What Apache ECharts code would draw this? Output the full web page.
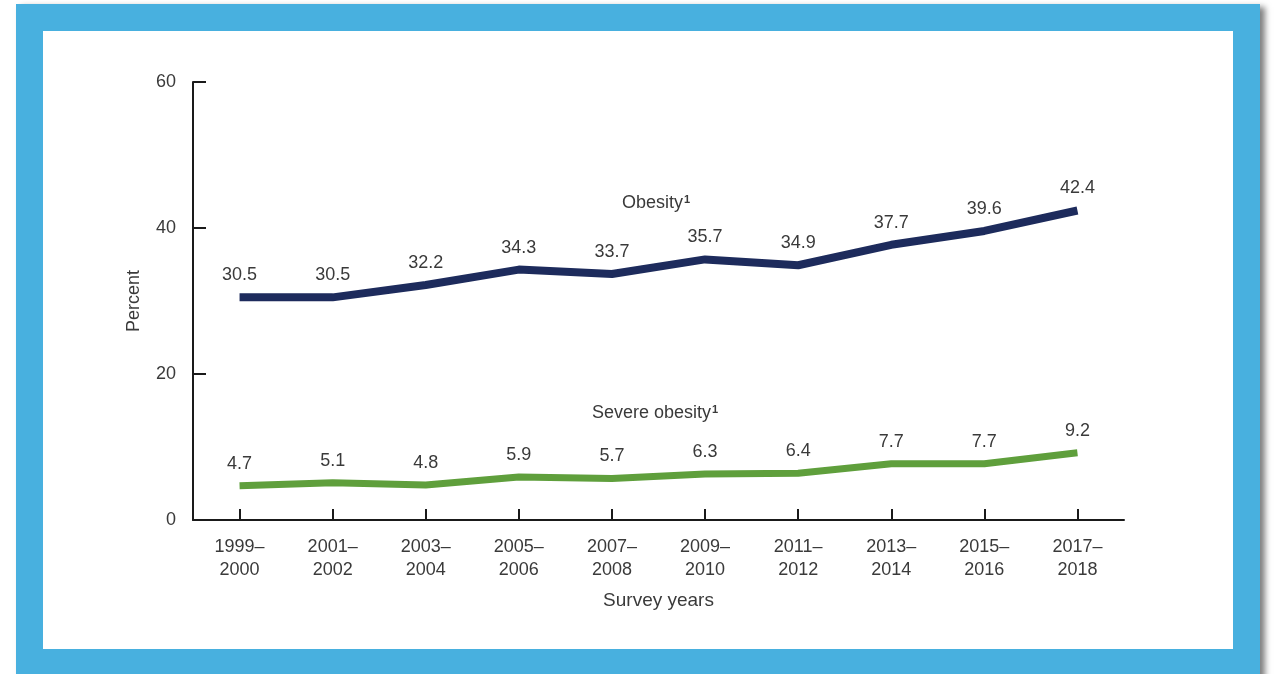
<!DOCTYPE html>
<html>
<head>
<meta charset="utf-8">
<script src="https://cdn.jsdelivr.net/npm/echarts@6/dist/echarts.min.js"></script>
<style>
  html, body { margin: 0; padding: 0; background: #ffffff; width: 1276px; height: 674px; overflow: hidden; }
  #frame { position: absolute; left: 16px; top: 4px; width: 1244px; height: 690px; background: #48b0df; box-shadow: 5px 3px 6px rgba(0,0,0,0.5); }
  #inner { position: absolute; left: 43px; top: 31px; width: 1190px; height: 618px; background: #ffffff; }
  #chart { position: absolute; left: 0; top: 0; width: 1276px; height: 674px; }
</style>
</head>
<body>
<div id="frame"></div>
<div id="inner"></div>
<div id="chart"></div>
<script>
const categories = ['1999–\n2000', '2001–\n2002', '2003–\n2004', '2005–\n2006', '2007–\n2008', '2009–\n2010', '2011–\n2012', '2013–\n2014', '2015–\n2016', '2017–\n2018'];
const obesity = [30.5, 30.5, 32.2, 34.3, 33.7, 35.7, 34.9, 37.7, 39.6, 42.4];
const severeObesity = [4.7, 5.1, 4.8, 5.9, 5.7, 6.3, 6.4, 7.7, 7.7, 9.2];
const yTicks = [0, 20, 40, 60];

const FONT = '"Liberation Sans", Arial, sans-serif';
const TXT = '#3a3a3a';
const NAVY = '#1d2b5c';
const GREEN = '#5f9f3c';

const chart = echarts.init(document.getElementById('chart'), null, { renderer: 'canvas' });
chart.setOption({
  animation: false,
  textStyle: { fontFamily: FONT },
  grid: { left: 193, right: 152, top: 82, bottom: 154, containLabel: false },
  xAxis: {
    type: 'category',
    data: categories,
    boundaryGap: true,
    name: 'Survey years',
    nameLocation: 'middle',
    nameGap: 71,
    nameTextStyle: { fontSize: 19, color: TXT, fontFamily: FONT },
    axisLine: { lineStyle: { color: '#1a1a1a', width: 2 } },
    axisTick: { show: true, inside: true, length: 11, alignWithLabel: true, lineStyle: { color: '#1a1a1a', width: 2 } },
    axisLabel: { fontSize: 18, color: TXT, lineHeight: 23, margin: 16, fontFamily: FONT },
    splitLine: { show: false }
  },
  yAxis: {
    type: 'value',
    min: yTicks[0],
    max: yTicks[yTicks.length - 1],
    interval: 20,
    name: 'Percent',
    nameLocation: 'middle',
    nameGap: 50,
    nameTextStyle: { fontSize: 18, color: TXT, fontFamily: FONT },
    axisLine: { show: true, lineStyle: { color: '#1a1a1a', width: 2 } },
    axisTick: { show: true, inside: true, length: 13, lineStyle: { color: '#1a1a1a', width: 2 } },
    axisLabel: { fontSize: 18, color: TXT, margin: 17, fontFamily: FONT },
    splitLine: { show: false }
  },
  series: [
    {
      name: 'Obesity',
      type: 'line',
      data: obesity,
      symbol: 'circle',
      symbolSize: 0,
      showSymbol: true,
      itemStyle: { color: NAVY },
      lineStyle: { color: NAVY, width: 8, cap: 'butt', join: 'round' },
      label: { show: true, position: 'top', distance: 13, fontSize: 18, color: TXT, fontFamily: FONT, formatter: p => p.value.toFixed(1) },
      z: 3
    },
    {
      name: 'Severe obesity',
      type: 'line',
      data: severeObesity,
      symbol: 'circle',
      symbolSize: 0,
      showSymbol: true,
      itemStyle: { color: GREEN },
      lineStyle: { color: GREEN, width: 7, cap: 'butt', join: 'round' },
      label: { show: true, position: 'top', distance: 13, fontSize: 18, color: TXT, fontFamily: FONT, formatter: p => p.value.toFixed(1) },
      z: 3
    }
  ],
  graphic: [
    {
      type: 'text', left: 622, top: 194,
      style: {
        text: '{n|Obesity}{s|1}',
        rich: { n: { fontSize: 18, fill: TXT, fontFamily: FONT }, s: { fontSize: 11, fontWeight: 'bold', fill: TXT, fontFamily: FONT, verticalAlign: 'top', padding: [0, 0, 8, 1] } }
      }
    },
    {
      type: 'text', left: 592, top: 404,
      style: {
        text: '{n|Severe obesity}{s|1}',
        rich: { n: { fontSize: 18, fill: TXT, fontFamily: FONT }, s: { fontSize: 11, fontWeight: 'bold', fill: TXT, fontFamily: FONT, verticalAlign: 'top', padding: [0, 0, 8, 1] } }
      }
    }
  ]
});
</script>
</body>
</html>
